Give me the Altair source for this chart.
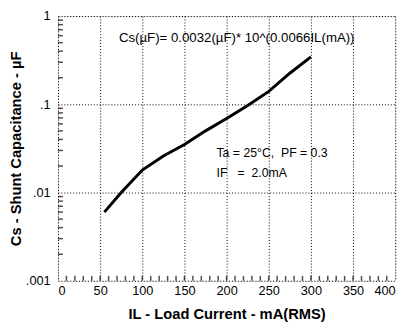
import altair as alt
import pandas as pd

# Curve values
il_ma = [55, 75, 100, 125, 150, 175, 200, 225, 250, 275, 300]
cs_uf = [0.0060, 0.0100, 0.018, 0.026, 0.035, 0.050, 0.069, 0.097, 0.140, 0.225, 0.345]

# Axis ticks
x_ticks = [0, 50, 100, 150, 200, 250, 300, 350, 400]
y_ticks = [0.001, 0.01, 0.1, 1]
y_tick_labels = [".001", ".01", ".1", "1"]
x_minor = [v for v in range(10, 400, 10)]
y_minor = [m * d for d in (0.001, 0.01, 0.1) for m in range(2, 10)]

NB = "\u00a0"
# Annotations
notes_text = ["Cs(\u00b5F)= 0.0032(\u00b5F)* 10^(0.0066IL(mA))",
              f"Ta = 25\u00b0C,{NB}{NB}PF = 0.3",
              f"IF{NB}{NB}{NB}={NB}{NB}2.0mA"]
notes_x = [212, 188, 188]
notes_y = [0.56, 0.028, 0.0166]
notes_align = ["center", "left", "left"]
notes_size = [13.5, 12.5, 12.5]

W, H = 344, 270
FONT = "Liberation Sans"

label_expr = " : ".join(
    f"datum.value == {v} ? '{l}'" for v, l in zip(y_ticks, y_tick_labels)
) + " : ''"

xscale = alt.Scale(domain=[0, 400], nice=False)
yscale = alt.Scale(type="log", domain=[0.001, 1], nice=False)

line_df = pd.DataFrame({"IL": il_ma, "Cs": cs_uf})

line = alt.Chart(line_df).mark_line(color="black", strokeWidth=3).encode(
    x=alt.X("IL:Q", scale=xscale,
            axis=alt.Axis(values=x_ticks, title="IL - Load Current - mA(RMS)",
                          grid=True, gridColor="black", gridDash=[1, 2], gridWidth=1,
                          domain=False, ticks=False, labelFontSize=13, labelPadding=4,
                          labelColor="black", labelFont=FONT,
                          titleFont=FONT, titleFontSize=15, titleFontWeight="bold",
                          titleColor="black", titlePadding=10)),
    y=alt.Y("Cs:Q", scale=yscale,
            axis=alt.Axis(values=y_ticks, labelExpr=label_expr,
                          title="Cs - Shunt Capacitance - \u00b5F",
                          grid=True, gridColor="black", gridDash=[1, 2], gridWidth=1,
                          domain=False, ticks=False, labelFontSize=13, labelPadding=8,
                          labelColor="black", labelFont=FONT,
                          titleFont=FONT, titleFontSize=15, titleFontWeight="bold",
                          titleColor="black", titlePadding=2)),
)

xminor = alt.Chart(pd.DataFrame({"v": x_minor})).mark_tick(
    color="black", orient="vertical", size=5, thickness=1.5
).encode(x=alt.X("v:Q", scale=xscale), y=alt.value(H - 2.5))

yminor = alt.Chart(pd.DataFrame({"v": y_minor})).mark_tick(
    color="black", orient="horizontal", size=5, thickness=1.5
).encode(y=alt.Y("v:Q", scale=yscale), x=alt.value(2.5))

notes_df = pd.DataFrame({"t": notes_text, "x": notes_x, "y": notes_y,
                         "a": notes_align, "s": notes_size})
note_c = alt.Chart(notes_df[notes_df.a == "center"]).mark_text(
    align="center", baseline="middle", fontSize=notes_size[0], font=FONT, color="black"
).encode(x=alt.X("x:Q", scale=xscale), y=alt.Y("y:Q", scale=yscale), text="t:N")
note_l = alt.Chart(notes_df[notes_df.a == "left"]).mark_text(
    align="left", baseline="middle", fontSize=notes_size[1], font=FONT, color="black"
).encode(x=alt.X("x:Q", scale=xscale), y=alt.Y("y:Q", scale=yscale), text="t:N")

chart = alt.layer(line, xminor, yminor, note_c, note_l).properties(
    width=W, height=H,
    autosize=alt.AutoSizeParams(type="none"),
    padding={"left": 51, "top": 5, "right": 11, "bottom": 48},
).configure_view(stroke="black", strokeWidth=2).configure(background="white")

chart.save("out.html", embed_options={"renderer": "svg", "actions": False})
